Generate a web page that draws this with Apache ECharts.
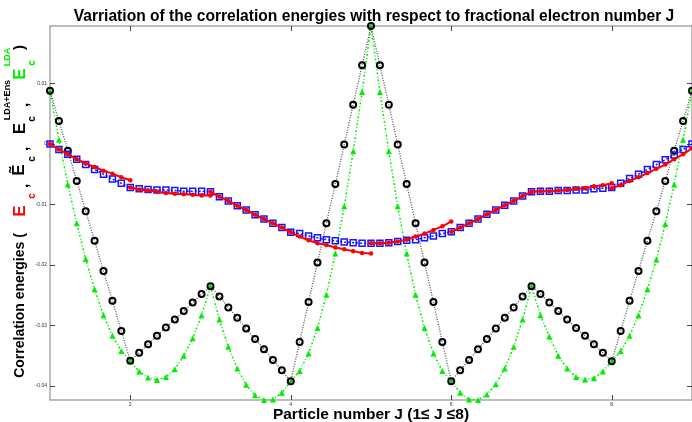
<!DOCTYPE html>
<html>
<head>
<meta charset="utf-8">
<script src="https://cdn.jsdelivr.net/npm/echarts@6/dist/echarts.min.js"></script>
<style>
  html, body { margin: 0; padding: 0; background: #fff; }
  #main { width: 692px; height: 422px; }
</style>
</head>
<body>
<div id="main"></div>
<script>
// Particle numbers J and the sampling steps inside each unit interval [n, n+1]
const particleNumbers = [1, 2, 3, 4, 5, 6, 7, 8];
const unitSteps = [0, 0.1111, 0.2222, 0.3333, 0.4444, 0.5556, 0.6667, 0.7778, 0.8889, 1];

// Exact correlation energy E_c, one piece per interval (discontinuous at integers)
const exactJ1 = [0, -0.0009, -0.0017, -0.0025, -0.0032, -0.0038, -0.0044, -0.0049, -0.0055, -0.0060];
const exactJ2 = [-0.0072, -0.0075, -0.0077, -0.0079, -0.0081, -0.0082, -0.0083, -0.0084, -0.0085, -0.0085];
const exactJ3 = [-0.0079, -0.0087, -0.0094, -0.0102, -0.0109, -0.0117, -0.0124, -0.0131, -0.0138, -0.0146];
const exactJ4 = [-0.0146, -0.0153, -0.0159, -0.0164, -0.0167, -0.0171, -0.0174, -0.0177, -0.0180, -0.0181];
const exactJ5 = [-0.0164, -0.0164, -0.0163, -0.0161, -0.0158, -0.0153, -0.0148, -0.0142, -0.0136, -0.0128];
const exactJ6 = [-0.0145, -0.0138, -0.0131, -0.0124, -0.0116, -0.0109, -0.0101, -0.0094, -0.0086, -0.0079];
const exactJ7 = [-0.0079, -0.0078, -0.0078, -0.0077, -0.0076, -0.0074, -0.0073, -0.0070, -0.0068, -0.0065];
const exactJ8 = [-0.0073, -0.0068, -0.0061, -0.0055, -0.0048, -0.0041, -0.0034, -0.0025, -0.0017, -0.0007];
const exactPieces = [exactJ1, exactJ2, exactJ3, exactJ4, exactJ5, exactJ6, exactJ7, exactJ8];

// Continuous curves sampled on the full grid J = 1 ... 9
const ecTilde = [
  0, -0.0009, -0.0017, -0.0025, -0.0034, -0.0042, -0.0050, -0.0058, -0.0065, -0.0072,
  -0.0074, -0.0075, -0.0076, -0.0076, -0.0077, -0.0078, -0.0078, -0.0078, -0.0079,
  -0.0087, -0.0094, -0.0102, -0.0109, -0.0117, -0.0124, -0.0131, -0.0138, -0.0146,
  -0.0148, -0.0152, -0.0155, -0.0158, -0.0160, -0.0162, -0.0163, -0.0164, -0.0164,
  -0.0164, -0.0163, -0.0161, -0.0159, -0.0158, -0.0155, -0.0152, -0.0148, -0.0145,
  -0.0138, -0.0131, -0.0124, -0.0116, -0.0109, -0.0101, -0.0094, -0.0086, -0.0079,
  -0.0078, -0.0078, -0.0077, -0.0077, -0.0076, -0.0076, -0.0074, -0.0073, -0.0072,
  -0.0065, -0.0057, -0.0050, -0.0042, -0.0034, -0.0026, -0.0018, -0.0009, 0
];

const ecLdaEns = [
  0.0088, 0.0038, -0.0011, -0.0061, -0.0111, -0.0160, -0.0210, -0.0259, -0.0309, -0.0358,
  -0.0345, -0.0331, -0.0317, -0.0303, -0.0290, -0.0276, -0.0262, -0.0248, -0.0235,
  -0.0252, -0.0270, -0.0287, -0.0305, -0.0322, -0.0339, -0.0357, -0.0374, -0.0392,
  -0.0327, -0.0261, -0.0196, -0.0131, -0.0066, -0.0001, 0.0065, 0.0130, 0.0195,
  0.0130, 0.0065, -0.0001, -0.0066, -0.0131, -0.0196, -0.0261, -0.0327, -0.0392,
  -0.0374, -0.0357, -0.0339, -0.0322, -0.0305, -0.0287, -0.0270, -0.0252, -0.0235,
  -0.0248, -0.0262, -0.0276, -0.0290, -0.0304, -0.0317, -0.0331, -0.0345, -0.0359,
  -0.0309, -0.0259, -0.0210, -0.0160, -0.0111, -0.0061, -0.0011, 0.0038, 0.0088
];

const ecLda = [
  0.0088, 0.0007, -0.0067, -0.0131, -0.0190, -0.0240, -0.0283, -0.0317, -0.0342, -0.0358,
  -0.0376, -0.0386, -0.0390, -0.0385, -0.0372, -0.0350, -0.0321, -0.0283, -0.0235,
  -0.0290, -0.0335, -0.0371, -0.0398, -0.0415, -0.0423, -0.0422, -0.0411, -0.0392,
  -0.0375, -0.0346, -0.0304, -0.0249, -0.0181, -0.0103, -0.0012, 0.0086, 0.0195,
  0.0086, -0.0012, -0.0103, -0.0181, -0.0249, -0.0304, -0.0346, -0.0375, -0.0392,
  -0.0411, -0.0422, -0.0423, -0.0414, -0.0397, -0.0371, -0.0335, -0.0290, -0.0235,
  -0.0283, -0.0318, -0.0350, -0.0371, -0.0385, -0.0389, -0.0387, -0.0376, -0.0359,
  -0.0342, -0.0317, -0.0283, -0.0240, -0.0191, -0.0132, -0.0067, 0.0007, 0.0088
];

// Axis ticks
const xTicks = [2, 4, 6, 8];
const yTicks = [-0.04, -0.03, -0.02, -0.01, 0, 0.01];

// Build the J grid from the interval starts and steps
const fullGrid = [];
particleNumbers.forEach((n, i) => {
  unitSteps.forEach((s, k) => {
    if (k === 0 && i > 0) return;
    fullGrid.push(n + s);
  });
});
const pairs = (xs, ys) => ys.map((y, i) => [xs[i], y]);

const FONT = '"Liberation Sans", Arial, sans-serif';

const series = [];
series.push({
  type: 'line', data: pairs(fullGrid, ecLda), z: 2,
  symbol: 'triangle', symbolSize: 6,
  itemStyle: { color: '#00ee00' },
  lineStyle: { color: '#00ee00', width: 1.5, type: [2, 2, 1, 2] }
});
series.push({
  type: 'line', data: pairs(fullGrid, ecLdaEns), z: 3,
  symbol: 'circle', symbolSize: 6,
  itemStyle: { color: 'rgba(255,255,255,0)', borderColor: '#000', borderWidth: 2 },
  lineStyle: { color: '#555', width: 1.3, type: [1, 1.5] }
});
series.push({
  type: 'line', data: pairs(fullGrid, ecTilde), z: 4,
  symbol: 'rect', symbolSize: 6,
  itemStyle: { color: 'rgba(255,255,255,0)', borderColor: '#1515ff', borderWidth: 1.5 },
  lineStyle: { color: '#1515ff', width: 1.5, type: [2, 2] }
});
exactPieces.forEach((piece, i) => {
  const xs = unitSteps.map(s => particleNumbers[i] + s);
  series.push({
    type: 'line', data: pairs(xs, piece), z: 5,
    symbol: 'circle', symbolSize: 4.5,
    itemStyle: { color: '#ff0000' },
    lineStyle: { color: '#ff0000', width: 2 }
  });
});

// Rotated y-axis title with coloured terms, sub- and superscripts
const yTitleParts = [
  { text: 'Correlation energies (', x: 20, y: 305.5, size: 14, color: '#000' },
  { text: 'E', x: 20, y: 211, size: 17, color: '#ff0000' },
  { text: 'c', x: 32, y: 196, size: 10, color: '#ff0000' },
  { text: ',', x: 24, y: 186, size: 15, color: '#000' },
  { text: 'Ẽ', x: 19, y: 170, size: 17, color: '#000' },
  { text: 'c', x: 32, y: 159, size: 10, color: '#000' },
  { text: ',', x: 24, y: 149, size: 15, color: '#000' },
  { text: 'E', x: 20, y: 128.5, size: 17, color: '#000' },
  { text: 'c', x: 32, y: 119, size: 10, color: '#000' },
  { text: 'LDA+Ens', x: 8, y: 100, size: 9, color: '#000' },
  { text: ',', x: 24, y: 105, size: 15, color: '#000' },
  { text: 'E', x: 20, y: 74, size: 17, color: '#00ee00' },
  { text: 'c', x: 32, y: 63, size: 10, color: '#00ee00' },
  { text: 'LDA', x: 8, y: 57, size: 9, color: '#00ee00' },
  { text: ')', x: 20, y: 47.5, size: 15, color: '#000' }
];

const graphic = yTitleParts.map(p => ({
  type: 'text', x: p.x, y: p.y, rotation: Math.PI / 2, silent: true,
  style: {
    text: p.text, fill: p.color,
    font: 'bold ' + p.size + 'px ' + FONT,
    align: 'center', verticalAlign: 'middle',
    textAlign: 'center', textVerticalAlign: 'middle'
  }
}));

const axisGray = '#a8a8a8';
const tickStyle = { color: '#444', width: 1 };
const fmt = v => String(Math.round(v * 100) / 100);

const chart = echarts.init(document.getElementById('main'), null, { renderer: 'canvas' });
chart.setOption({
  animation: false,
  backgroundColor: '#fff',
  title: {
    text: 'Varriation of the correlation energies with respect to fractional electron number J',
    left: 369, top: 4, textAlign: 'center',
    textStyle: { fontFamily: FONT, fontWeight: 'bold', fontSize: 15.6, color: '#000' }
  },
  grid: { left: 50, right: 0, top: 26, bottom: 22, containLabel: false, outerBoundsMode: 'none' },
  xAxis: [{
    type: 'value', min: 1, max: 9, position: 'bottom',
    axisLine: { onZero: false, lineStyle: { color: axisGray, width: 1.5 } },
    axisTick: { inside: true, length: 5, customValues: xTicks, lineStyle: tickStyle },
    axisLabel: { customValues: xTicks, fontSize: 5, margin: 2, color: '#333', fontFamily: FONT },
    splitLine: { show: false },
    name: 'Particle number J (1≤ J ≤8)', nameLocation: 'middle', nameGap: 7, nameMoveOverlap: false,
    nameTextStyle: { fontFamily: FONT, fontWeight: 'bold', fontSize: 15.5, color: '#000' }
  }, {
    type: 'value', min: 1, max: 9, position: 'top',
    axisLine: { onZero: false, lineStyle: { color: axisGray, width: 1.5 } },
    axisTick: { inside: true, length: 5, customValues: xTicks, lineStyle: tickStyle },
    axisLabel: { show: false },
    splitLine: { show: false }
  }],
  yAxis: [{
    type: 'value', min: -0.0423, max: 0.0195, position: 'left',
    axisLine: { show: true, onZero: false, lineStyle: { color: axisGray, width: 1.5 } },
    axisTick: { show: true, inside: true, length: 5, customValues: yTicks, lineStyle: tickStyle },
    axisLabel: { customValues: yTicks, fontSize: 5, margin: 3, color: '#333', fontFamily: FONT, formatter: fmt },
    splitLine: { show: false }
  }, {
    type: 'value', min: -0.0423, max: 0.0195, position: 'right',
    axisLine: { show: true, onZero: false, lineStyle: { color: axisGray, width: 1.5 } },
    axisTick: { show: true, inside: true, length: 5, customValues: yTicks, lineStyle: tickStyle },
    axisLabel: { show: false },
    splitLine: { show: false }
  }],
  graphic: graphic,
  series: series
});
</script>
</body>
</html>
